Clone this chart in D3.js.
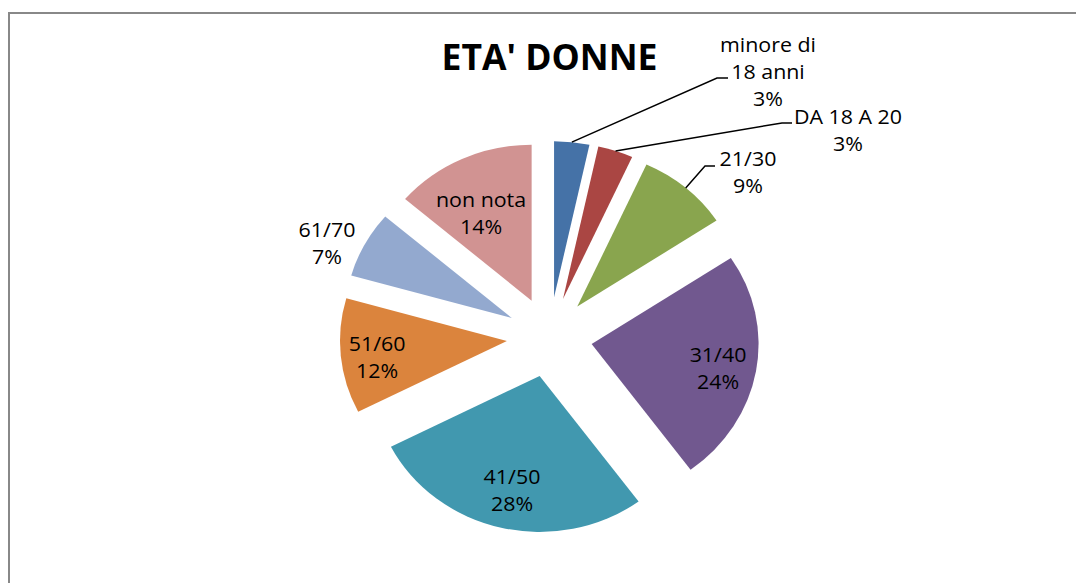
<!DOCTYPE html>
<html>
<head>
<meta charset="utf-8">
<script src="https://cdn.jsdelivr.net/npm/d3@7"></script>
<style>
  html, body { margin: 0; padding: 0; background: #fff; }
  svg { display: block; }
  text { font-family: "Open Sans", sans-serif; fill: #000; }
</style>
</head>
<body>
<svg id="chart" width="1076" height="583"></svg>
<script>
// ---- data ----
const title = "ETA' DONNE";
const categories = ["minore di 18 anni", "DA 18 A 20", "21/30", "31/40", "41/50", "51/60", "61/70", "non nota"];
const values = [3.4, 3.4, 8.9, 24.2, 27.6, 11.9, 6.9, 13.7];
const labelNames = [["minore di", "18 anni"], ["DA 18 A 20"], ["21/30"], ["31/40"], ["41/50"], ["51/60"], ["61/70"], ["non nota"]];
const colors = ["#4572A7", "#AA4643", "#89A54E", "#71588F", "#4198AF", "#DB843D", "#93A9CF", "#D19392"];

// ---- layout ----
const W = 1076, H = 583;
const cx = 549.5, cy = 337, R = 156, explode = 40, sx = 1.07;
const fontSize = 20, lineH = 27;
// label placement: polar (r, angle deg, in unscaled pie units) or fixed anchor with leader line
const labelLayout = [
  { x: 768, y: 71.7, leader: [[717, 78], [728, 78]] },
  { x: 848, y: 130, leader: [[782, 123], [792, 123]] },
  { x: 748, y: 172.5, leader: [[705, 166], [715, 166]] },
  { r: 160.6, a: 101.3 },
  { r: 157, a: 192.9 },
  { r: 162.4, a: 262.9 },
  { r: 228, a: 294.2 },
  { r: 139.5, a: 332.7 }
];

const svg = d3.select("#chart");

// border
svg.append("rect")
  .attr("x", 9).attr("y", 13).attr("width", W + 50).attr("height", H + 50)
  .attr("fill", "none").attr("stroke", "#888").attr("stroke-width", 2);

// title
svg.append("text")
  .attr("x", 441.5).attr("y", 70)
  .attr("font-size", 35).attr("font-weight", "bold")
  .attr("textLength", 216).attr("lengthAdjust", "spacingAndGlyphs")
  .text(title);

const total = d3.sum(values);
const pie = d3.pie().sort(null).value(d => d);
const arcs = pie(values);
const arc = d3.arc().innerRadius(0).outerRadius(R);

const pieG = svg.append("g").attr("transform", `translate(${cx},${cy}) scale(${sx},1)`);
pieG.selectAll("path").data(arcs).join("path")
  .attr("d", arc)
  .attr("fill", (d, i) => colors[i])
  .attr("transform", d => {
    const m = (d.startAngle + d.endAngle) / 2;
    return `translate(${explode * Math.sin(m)},${-explode * Math.cos(m)})`;
  });

// labels
const fmt = v => Math.round(v / total * 100) + "%";
arcs.forEach((d, i) => {
  const lay = labelLayout[i];
  const lines = labelNames[i].concat([fmt(values[i])]);
  let lx, ly;
  if (lay.r !== undefined) {
    const a = lay.a * Math.PI / 180;
    lx = cx + sx * lay.r * Math.sin(a);
    ly = cy - lay.r * Math.cos(a);
  } else {
    lx = lay.x; ly = lay.y;
    const m = (d.startAngle + d.endAngle) / 2;
    const sxp = cx + sx * (explode + R) * Math.sin(m);
    const syp = cy - (explode + R) * Math.cos(m);
    const pts = [[sxp, syp]].concat(lay.leader);
    svg.append("path")
      .attr("d", d3.line()(pts))
      .attr("fill", "none").attr("stroke", "#000").attr("stroke-width", 1.5);
  }
  const g = svg.append("g").attr("transform", `translate(${lx},${ly}) scale(${sx},1)`);
  const first = -(lines.length - 1) * lineH / 2 + 7;
  lines.forEach((t, k) => {
    g.append("text")
      .attr("x", 0).attr("y", first + k * lineH)
      .attr("text-anchor", "middle")
      .attr("font-size", fontSize)
      .text(t);
  });
});
</script>
</body>
</html>
